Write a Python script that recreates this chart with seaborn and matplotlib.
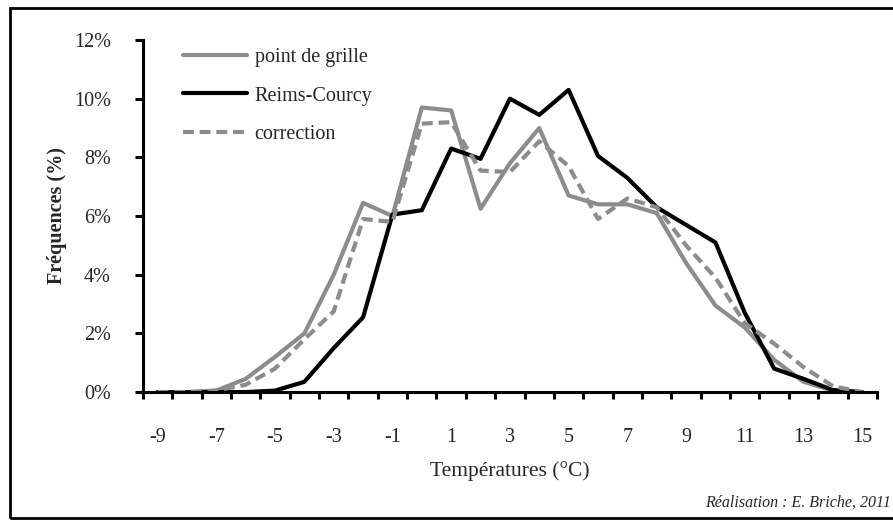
import matplotlib
matplotlib.use("Agg")
import matplotlib.pyplot as plt
from matplotlib.ticker import FixedLocator, FuncFormatter
from matplotlib.patches import Rectangle
import seaborn as sns
import pandas as pd

# Temperature classes (°C) and frequency of each class (%)
temperatures = list(range(-9, 16))
point_de_grille = [0.0, 0.0, 0.05, 0.45, 1.2, 2.0, 4.0, 6.45, 6.0, 9.7, 9.6, 6.25, 7.8,
                   9.0, 6.7, 6.4, 6.4, 6.1, 4.4, 2.95, 2.2, 1.1, 0.35, 0.05, 0.0]
reims_courcy = [0.0, 0.0, 0.0, 0.0, 0.05, 0.35, 1.5, 2.55, 6.05, 6.2, 8.3, 7.95, 10.0,
                9.45, 10.3, 8.05, 7.3, 6.3, 5.7, 5.1, 2.7, 0.8, 0.45, 0.07, 0.0]
correction = [0.0, 0.0, 0.05, 0.25, 0.8, 1.8, 2.75, 5.9, 5.8, 9.15, 9.2, 7.55, 7.5,
              8.55, 7.7, 5.9, 6.6, 6.3, 5.0, 3.9, 2.35, 1.65, 0.85, 0.2, 0.0]
y_ticks = [0, 2, 4, 6, 8, 10, 12]
x_labels = list(range(-9, 16, 2))

sns.set_style("white")
plt.rcParams["font.family"] = ["Liberation Serif", "DejaVu Serif"]

GRAY = "#8c8c8c"
DASH = (0, (2.6, 1.4))

fig = plt.figure(figsize=(8.93, 5.2), dpi=100)
ax = fig.add_axes([0.160, 0.246, 0.822, 0.677])

df = pd.DataFrame({
    "temp": temperatures,
    "point de grille": point_de_grille,
    "Reims-Courcy": reims_courcy,
    "correction": correction,
})

sns.lineplot(data=df, x="temp", y="point de grille", ax=ax, color=GRAY,
             linewidth=3.0, label="point de grille")
sns.lineplot(data=df, x="temp", y="Reims-Courcy", ax=ax, color="black",
             linewidth=3.0, label="Reims-Courcy")
sns.lineplot(data=df, x="temp", y="correction", ax=ax, color=GRAY,
             linewidth=3.0, label="correction")
ax.lines[2].set_linestyle(DASH)

ax.set_xlim(-9.5, 15.5)
ax.set_ylim(0, 12)

# Category-style axis: ticks between classes, labels on every other class
ax.xaxis.set_major_locator(FixedLocator([t + 0.5 for t in range(-10, 16)]))
ax.xaxis.set_major_formatter(FuncFormatter(lambda v, p: ""))
ax.xaxis.set_minor_locator(FixedLocator(x_labels))
ax.xaxis.set_minor_formatter(FuncFormatter(lambda v, p: f"{int(round(v))}"))
ax.tick_params(axis="x", which="major", direction="out", length=5, width=2.2,
               color="black", bottom=True)
ax.tick_params(axis="x", which="minor", length=0, pad=26, labelsize=14.5, bottom=True)

ax.set_yticks(y_ticks)
ax.set_yticklabels([f"{v}%" for v in y_ticks])
ax.tick_params(axis="y", direction="out", length=6, width=2.2, color="black",
               pad=17, labelsize=14.5, left=True)

for side in ("top", "right"):
    ax.spines[side].set_visible(False)
for side in ("left", "bottom"):
    ax.spines[side].set_color("black")
    ax.spines[side].set_linewidth(2.2)

ax.set_xlabel("Températures (°C)", fontsize=15.5, labelpad=10)
ax.set_ylabel("Fréquences (%)", fontsize=14.5, fontweight="bold", labelpad=5)

leg = ax.legend(loc="upper left", bbox_to_anchor=(0.03, 1.03), frameon=False,
                fontsize=14.5, handlelength=3.2, handletextpad=0.35,
                labelspacing=0.98)
leg.get_lines()[2].set_linestyle(DASH)

fig.text(0.998, 0.018, "Réalisation : E. Briche, 2011", ha="right", va="bottom",
         fontsize=11.5, style="italic")

# Frame around the whole chart
fig.patches.append(Rectangle((10 / 893, 2 / 520), 1.0, 510 / 520,
                             transform=fig.transFigure, fill=False,
                             edgecolor="black", linewidth=2.0))

fig.savefig("out.png", dpi=100)
